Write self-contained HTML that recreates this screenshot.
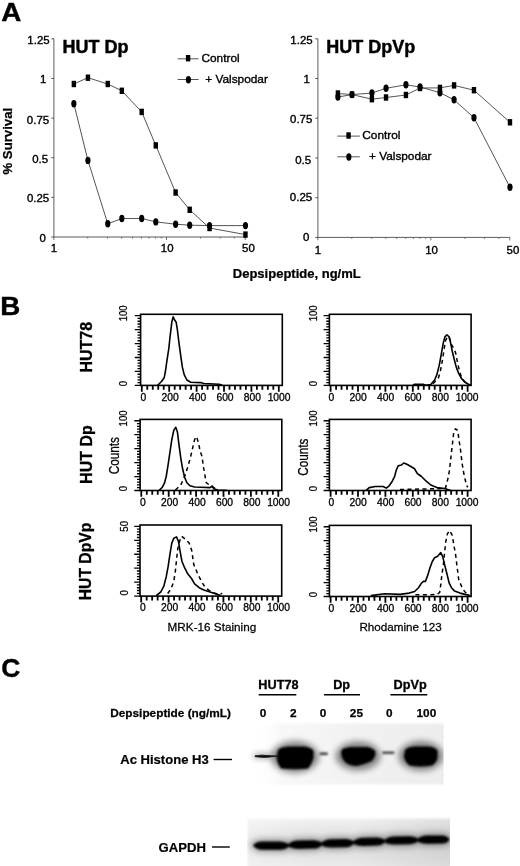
<!DOCTYPE html>
<html><head><meta charset="utf-8"><title>Figure</title>
<style>
html,body{margin:0;padding:0;background:#fff;overflow:hidden;}
svg{display:block;font-family:"Liberation Sans", Arial, Helvetica, sans-serif;}
text{fill:#000;}
</style></head>
<body>
<svg width="520" height="866" viewBox="0 0 520 866">
<rect width="520" height="866" fill="#fff"/>
<defs><filter id="soft" x="0" y="0" width="520" height="866" filterUnits="userSpaceOnUse"><feGaussianBlur stdDeviation="0.45"/></filter></defs>
<g filter="url(#soft)">
<path d="M53.9 38.8 V237 H245.47" fill="none" stroke="#333" stroke-width="0.8"/>
<path d="M51.4 237.00 H53.9" stroke="#4c4c4c" stroke-width="1"/>
<text font-size="10.4" text-anchor="end" transform="translate(45.9 242.2) scale(1.1 1.0)" stroke="#000" stroke-width="0.35">0</text>
<path d="M51.4 197.36 H53.9" stroke="#4c4c4c" stroke-width="1"/>
<text font-size="10.4" text-anchor="end" transform="translate(49.2 201.66) scale(1.1 1.0)" stroke="#000" stroke-width="0.35">0.25</text>
<path d="M51.4 157.72 H53.9" stroke="#4c4c4c" stroke-width="1"/>
<text font-size="10.4" text-anchor="end" transform="translate(48.1 163.42) scale(1.1 1.0)" stroke="#000" stroke-width="0.35">0.5</text>
<path d="M51.4 118.08 H53.9" stroke="#4c4c4c" stroke-width="1"/>
<text font-size="10.4" text-anchor="end" transform="translate(49.1 123.88) scale(1.1 1.0)" stroke="#000" stroke-width="0.35">0.75</text>
<path d="M51.4 78.44 H53.9" stroke="#4c4c4c" stroke-width="1"/>
<text font-size="10.4" text-anchor="end" transform="translate(46.4 83.34) scale(1.1 1.0)" stroke="#000" stroke-width="0.35">1</text>
<path d="M51.4 38.80 H53.9" stroke="#4c4c4c" stroke-width="1"/>
<text font-size="10.4" text-anchor="end" transform="translate(49.6 43.8) scale(1.1 1.0)" stroke="#000" stroke-width="0.35">1.25</text>
<path d="M53.80 237 v3" stroke="#4c4c4c" stroke-width="0.8"/>
<path d="M87.73 237 v1.5" stroke="#4c4c4c" stroke-width="0.8"/>
<path d="M107.57 237 v1.5" stroke="#4c4c4c" stroke-width="0.8"/>
<path d="M121.65 237 v1.5" stroke="#4c4c4c" stroke-width="0.8"/>
<path d="M132.57 237 v1.5" stroke="#4c4c4c" stroke-width="0.8"/>
<path d="M141.50 237 v1.5" stroke="#4c4c4c" stroke-width="0.8"/>
<path d="M149.04 237 v1.5" stroke="#4c4c4c" stroke-width="0.8"/>
<path d="M155.58 237 v1.5" stroke="#4c4c4c" stroke-width="0.8"/>
<path d="M161.34 237 v1.5" stroke="#4c4c4c" stroke-width="0.8"/>
<path d="M166.50 237 v3" stroke="#4c4c4c" stroke-width="0.8"/>
<path d="M200.43 237 v1.5" stroke="#4c4c4c" stroke-width="0.8"/>
<path d="M220.27 237 v1.5" stroke="#4c4c4c" stroke-width="0.8"/>
<path d="M234.35 237 v1.5" stroke="#4c4c4c" stroke-width="0.8"/>
<path d="M245.27 237 v3" stroke="#4c4c4c" stroke-width="0.8"/>
<text font-size="10.4" text-anchor="middle" transform="translate(54.0 252.1) scale(1.1 1.0)" stroke="#000" stroke-width="0.35">1</text>
<text font-size="10.4" text-anchor="middle" transform="translate(167.2 252.1) scale(1.1 1.0)" stroke="#000" stroke-width="0.35">10</text>
<text font-size="10.4" text-anchor="middle" transform="translate(248.47 252.1) scale(1.1 1.0)" stroke="#000" stroke-width="0.35">50</text>
<text font-size="18" font-weight="700" text-anchor="start" transform="translate(62.4 53.4)" stroke="#000" stroke-width="0.45">HUT Dp</text>
<polyline points="73.85,84.00 87.93,77.70 107.77,84.00 121.85,90.80 141.70,111.90 155.78,145.40 175.62,192.50 189.70,209.80 209.55,228.00 245.47,234.60" fill="none" stroke="#2a2a2a" stroke-width="0.8"/>
<polyline points="73.85,103.70 87.93,160.40 107.77,223.80 121.85,218.50 141.70,218.50 155.78,221.90 175.62,224.20 189.70,225.20 209.55,225.60 245.47,225.60" fill="none" stroke="#2a2a2a" stroke-width="0.8"/>
<rect x="71.65" y="80.80" width="4.4" height="6.4" fill="#000"/>
<rect x="85.73" y="74.50" width="4.4" height="6.4" fill="#000"/>
<rect x="105.57" y="80.80" width="4.4" height="6.4" fill="#000"/>
<rect x="119.65" y="87.60" width="4.4" height="6.4" fill="#000"/>
<rect x="139.50" y="108.70" width="4.4" height="6.4" fill="#000"/>
<rect x="153.58" y="142.20" width="4.4" height="6.4" fill="#000"/>
<rect x="173.42" y="189.30" width="4.4" height="6.4" fill="#000"/>
<rect x="187.50" y="206.60" width="4.4" height="6.4" fill="#000"/>
<rect x="207.35" y="224.80" width="4.4" height="6.4" fill="#000"/>
<rect x="243.27" y="231.40" width="4.4" height="6.4" fill="#000"/>
<ellipse cx="73.85" cy="103.70" rx="2.6" ry="3.7" fill="#000"/>
<ellipse cx="87.93" cy="160.40" rx="2.6" ry="3.7" fill="#000"/>
<ellipse cx="107.77" cy="223.80" rx="2.6" ry="3.7" fill="#000"/>
<ellipse cx="121.85" cy="218.50" rx="2.6" ry="3.7" fill="#000"/>
<ellipse cx="141.70" cy="218.50" rx="2.6" ry="3.7" fill="#000"/>
<ellipse cx="155.78" cy="221.90" rx="2.6" ry="3.7" fill="#000"/>
<ellipse cx="175.62" cy="224.20" rx="2.6" ry="3.7" fill="#000"/>
<ellipse cx="189.70" cy="225.20" rx="2.6" ry="3.7" fill="#000"/>
<ellipse cx="209.55" cy="225.60" rx="2.6" ry="3.7" fill="#000"/>
<ellipse cx="245.47" cy="225.60" rx="2.6" ry="3.7" fill="#000"/>
<path d="M177.6 58.800000000000004 h21 M177.6 79.5 h21" stroke="#555" stroke-width="1"/>
<rect x="185.9" y="55.0" width="4.4" height="6.4" fill="#000"/>
<ellipse cx="188.4" cy="79.7" rx="2.6" ry="3.7" fill="#000"/>
<text font-size="11.6" text-anchor="start" transform="translate(201.5 61.5) scale(1.02 1.0)" stroke="#000" stroke-width="0.35">Control</text>
<text font-size="11.6" text-anchor="start" transform="translate(205.3 82.5) scale(1.02 1.0)" stroke="#000" stroke-width="0.35">+ Valspodar</text>
<path d="M317.9 38.8 V237.4 H509.98" fill="none" stroke="#333" stroke-width="0.8"/>
<path d="M315.4 237.40 H317.9" stroke="#4c4c4c" stroke-width="1"/>
<text font-size="10.4" text-anchor="end" transform="translate(309.3 241.2) scale(1.1 1.0)" stroke="#000" stroke-width="0.35">0</text>
<path d="M315.4 197.68 H317.9" stroke="#4c4c4c" stroke-width="1"/>
<text font-size="10.4" text-anchor="end" transform="translate(312.1 200.98) scale(1.1 1.0)" stroke="#000" stroke-width="0.35">0.25</text>
<path d="M315.4 157.96 H317.9" stroke="#4c4c4c" stroke-width="1"/>
<text font-size="10.4" text-anchor="end" transform="translate(311.1 163.66) scale(1.1 1.0)" stroke="#000" stroke-width="0.35">0.5</text>
<path d="M315.4 118.24 H317.9" stroke="#4c4c4c" stroke-width="1"/>
<text font-size="10.4" text-anchor="end" transform="translate(312.3 122.74) scale(1.1 1.0)" stroke="#000" stroke-width="0.35">0.75</text>
<path d="M315.4 78.52 H317.9" stroke="#4c4c4c" stroke-width="1"/>
<text font-size="10.4" text-anchor="end" transform="translate(309.9 82.82) scale(1.1 1.0)" stroke="#000" stroke-width="0.35">1</text>
<path d="M315.4 38.80 H317.9" stroke="#4c4c4c" stroke-width="1"/>
<text font-size="10.4" text-anchor="end" transform="translate(312.6 43.5) scale(1.1 1.0)" stroke="#000" stroke-width="0.35">1.25</text>
<path d="M317.80 237.4 v3" stroke="#4c4c4c" stroke-width="0.8"/>
<path d="M351.82 237.4 v1.5" stroke="#4c4c4c" stroke-width="0.8"/>
<path d="M371.71 237.4 v1.5" stroke="#4c4c4c" stroke-width="0.8"/>
<path d="M385.83 237.4 v1.5" stroke="#4c4c4c" stroke-width="0.8"/>
<path d="M396.78 237.4 v1.5" stroke="#4c4c4c" stroke-width="0.8"/>
<path d="M405.73 237.4 v1.5" stroke="#4c4c4c" stroke-width="0.8"/>
<path d="M413.30 237.4 v1.5" stroke="#4c4c4c" stroke-width="0.8"/>
<path d="M419.85 237.4 v1.5" stroke="#4c4c4c" stroke-width="0.8"/>
<path d="M425.63 237.4 v1.5" stroke="#4c4c4c" stroke-width="0.8"/>
<path d="M430.80 237.4 v3" stroke="#4c4c4c" stroke-width="0.8"/>
<path d="M464.82 237.4 v1.5" stroke="#4c4c4c" stroke-width="0.8"/>
<path d="M484.71 237.4 v1.5" stroke="#4c4c4c" stroke-width="0.8"/>
<path d="M498.83 237.4 v1.5" stroke="#4c4c4c" stroke-width="0.8"/>
<path d="M509.78 237.4 v3" stroke="#4c4c4c" stroke-width="0.8"/>
<text font-size="10.4" text-anchor="middle" transform="translate(318.0 254) scale(1.1 1.0)" stroke="#000" stroke-width="0.35">1</text>
<text font-size="10.4" text-anchor="middle" transform="translate(431.5 254) scale(1.1 1.0)" stroke="#000" stroke-width="0.35">10</text>
<text font-size="10.4" text-anchor="middle" transform="translate(512.98 254) scale(1.1 1.0)" stroke="#000" stroke-width="0.35">50</text>
<text font-size="18" font-weight="700" text-anchor="start" transform="translate(326.2 53.4)" stroke="#000" stroke-width="0.45">HUT DpVp</text>
<polyline points="337.90,93.50 352.02,94.60 371.91,99.20 386.03,97.50 405.93,95.00 420.05,88.00 439.95,87.90 454.07,85.40 473.96,90.20 509.98,122.30" fill="none" stroke="#2a2a2a" stroke-width="0.8"/>
<polyline points="337.90,97.00 352.02,94.60 371.91,93.00 386.03,88.30 405.93,84.80 420.05,87.00 439.95,92.70 454.07,99.80 473.96,117.70 509.98,187.30" fill="none" stroke="#2a2a2a" stroke-width="0.8"/>
<rect x="335.70" y="90.30" width="4.4" height="6.4" fill="#000"/>
<rect x="349.82" y="91.40" width="4.4" height="6.4" fill="#000"/>
<rect x="369.71" y="96.00" width="4.4" height="6.4" fill="#000"/>
<rect x="383.83" y="94.30" width="4.4" height="6.4" fill="#000"/>
<rect x="403.73" y="91.80" width="4.4" height="6.4" fill="#000"/>
<rect x="417.85" y="84.80" width="4.4" height="6.4" fill="#000"/>
<rect x="437.75" y="84.70" width="4.4" height="6.4" fill="#000"/>
<rect x="451.87" y="82.20" width="4.4" height="6.4" fill="#000"/>
<rect x="471.76" y="87.00" width="4.4" height="6.4" fill="#000"/>
<rect x="507.78" y="119.10" width="4.4" height="6.4" fill="#000"/>
<ellipse cx="337.90" cy="97.00" rx="2.6" ry="3.7" fill="#000"/>
<ellipse cx="352.02" cy="94.60" rx="2.6" ry="3.7" fill="#000"/>
<ellipse cx="371.91" cy="93.00" rx="2.6" ry="3.7" fill="#000"/>
<ellipse cx="386.03" cy="88.30" rx="2.6" ry="3.7" fill="#000"/>
<ellipse cx="405.93" cy="84.80" rx="2.6" ry="3.7" fill="#000"/>
<ellipse cx="420.05" cy="87.00" rx="2.6" ry="3.7" fill="#000"/>
<ellipse cx="439.95" cy="92.70" rx="2.6" ry="3.7" fill="#000"/>
<ellipse cx="454.07" cy="99.80" rx="2.6" ry="3.7" fill="#000"/>
<ellipse cx="473.96" cy="117.70" rx="2.6" ry="3.7" fill="#000"/>
<ellipse cx="509.98" cy="187.30" rx="2.6" ry="3.7" fill="#000"/>
<path d="M337.3 136.1 h22.5 M337.3 156.8 h22.5" stroke="#555" stroke-width="1"/>
<rect x="346.35" y="132.3" width="4.4" height="6.4" fill="#000"/>
<ellipse cx="348.85" cy="157" rx="2.6" ry="3.7" fill="#000"/>
<text font-size="11.6" text-anchor="start" transform="translate(362.3 138.8) scale(1.02 1.0)" stroke="#000" stroke-width="0.35">Control</text>
<text font-size="11.6" text-anchor="start" transform="translate(369 159.8) scale(1.02 1.0)" stroke="#000" stroke-width="0.35">+ Valspodar</text>
<text font-size="26.3" font-weight="700" text-anchor="start" transform="translate(1.2 21.2) scale(1.06 1.0)" stroke="#000" stroke-width="0.4">A</text>
<text font-size="13.2" font-weight="700" text-anchor="middle" transform="translate(12.4 141.2) rotate(-90)" stroke="#000" stroke-width="0.25">% Survival</text>
<text font-size="12" font-weight="700" text-anchor="middle" transform="translate(296.75 278.2) scale(1.085 1.0)" stroke="#000" stroke-width="0.25">Depsipeptide, ng/mL</text>
<text font-size="26.2" font-weight="700" text-anchor="start" transform="translate(0.2 314.9) scale(1.06 1.0)" stroke="#000" stroke-width="0.4">B</text>
<rect x="140.6" y="314.3" width="141.7" height="71.1" fill="none" stroke="#000" stroke-width="1.6"/>
<path d="M134.80 385.40H140.6 M137.50 382.61H140.6 M137.50 379.82H140.6 M137.50 377.03H140.6 M137.50 374.24H140.6 M134.80 371.45H140.6 M137.50 368.66H140.6 M137.50 365.87H140.6 M137.50 363.08H140.6 M137.50 360.29H140.6 M134.80 357.50H140.6 M137.50 354.71H140.6 M137.50 351.92H140.6 M137.50 349.13H140.6 M137.50 346.34H140.6 M134.80 343.55H140.6 M137.50 340.76H140.6 M137.50 337.97H140.6 M137.50 335.18H140.6 M137.50 332.39H140.6 M134.80 329.60H140.6 M137.50 326.81H140.6 M137.50 324.02H140.6 M137.50 321.23H140.6 M137.50 318.44H140.6 M134.80 315.65H140.6 " stroke="#000" stroke-width="1.3"/>
<path d="M141.80 385.4v6.3 M147.28 385.4v4.3 M152.76 385.4v4.3 M158.24 385.4v4.3 M163.72 385.4v4.3 M169.20 385.4v6.3 M174.68 385.4v4.3 M180.16 385.4v4.3 M185.64 385.4v4.3 M191.12 385.4v4.3 M196.60 385.4v6.3 M202.08 385.4v4.3 M207.56 385.4v4.3 M213.04 385.4v4.3 M218.52 385.4v4.3 M224.00 385.4v6.3 M229.48 385.4v4.3 M234.96 385.4v4.3 M240.44 385.4v4.3 M245.92 385.4v4.3 M251.40 385.4v6.3 M256.88 385.4v4.3 M262.36 385.4v4.3 M267.84 385.4v4.3 M273.32 385.4v4.3 M278.80 385.4v6.3 " stroke="#000" stroke-width="1.8"/>
<text font-size="10.3" text-anchor="middle" transform="translate(143.4 401.3)" stroke="#000" stroke-width="0.3">0</text>
<text font-size="10.3" text-anchor="middle" transform="translate(170.2 401.3)" stroke="#000" stroke-width="0.3">200</text>
<text font-size="10.3" text-anchor="middle" transform="translate(197.6 401.3)" stroke="#000" stroke-width="0.3">400</text>
<text font-size="10.3" text-anchor="middle" transform="translate(225.0 401.3)" stroke="#000" stroke-width="0.3">600</text>
<text font-size="10.3" text-anchor="middle" transform="translate(252.4 401.3)" stroke="#000" stroke-width="0.3">800</text>
<text font-size="10.3" text-anchor="middle" transform="translate(279.1 401.3)" stroke="#000" stroke-width="0.3">1000</text>
<text font-size="9.6" text-anchor="middle" transform="translate(127.1 383.6) rotate(-90) scale(1.0 1.08)" stroke="#000" stroke-width="0.25">0</text>
<text font-size="9.6" text-anchor="middle" transform="translate(127.1 313.3) rotate(-90) scale(1.0 1.08)" stroke="#000" stroke-width="0.25">100</text>
<polyline points="157.7,385.2 161.5,381.5 164.2,377.7 165.4,371.5 166.9,360.8 168.8,348.5 170.3,334.6 171.8,322.3 173.1,316.9 174.6,320.0 176.2,322.3 177.4,330.0 178.9,342.3 180.8,356.2 182.3,366.9 184.2,374.6 186.9,380.0 190.8,382.3 200.8,382.6 203.8,383.5 219.2,384.2 222.3,385.2" fill="none" stroke="#000" stroke-width="1.6" stroke-linejoin="round"/>
<rect x="329.4" y="314.3" width="141.7" height="71.1" fill="none" stroke="#000" stroke-width="1.6"/>
<path d="M323.60 385.40H329.4 M326.30 382.61H329.4 M326.30 379.82H329.4 M326.30 377.03H329.4 M326.30 374.24H329.4 M323.60 371.45H329.4 M326.30 368.66H329.4 M326.30 365.87H329.4 M326.30 363.08H329.4 M326.30 360.29H329.4 M323.60 357.50H329.4 M326.30 354.71H329.4 M326.30 351.92H329.4 M326.30 349.13H329.4 M326.30 346.34H329.4 M323.60 343.55H329.4 M326.30 340.76H329.4 M326.30 337.97H329.4 M326.30 335.18H329.4 M326.30 332.39H329.4 M323.60 329.60H329.4 M326.30 326.81H329.4 M326.30 324.02H329.4 M326.30 321.23H329.4 M326.30 318.44H329.4 M323.60 315.65H329.4 " stroke="#000" stroke-width="1.3"/>
<path d="M330.60 385.4v6.3 M336.08 385.4v4.3 M341.56 385.4v4.3 M347.04 385.4v4.3 M352.52 385.4v4.3 M358.00 385.4v6.3 M363.48 385.4v4.3 M368.96 385.4v4.3 M374.44 385.4v4.3 M379.92 385.4v4.3 M385.40 385.4v6.3 M390.88 385.4v4.3 M396.36 385.4v4.3 M401.84 385.4v4.3 M407.32 385.4v4.3 M412.80 385.4v6.3 M418.28 385.4v4.3 M423.76 385.4v4.3 M429.24 385.4v4.3 M434.72 385.4v4.3 M440.20 385.4v6.3 M445.68 385.4v4.3 M451.16 385.4v4.3 M456.64 385.4v4.3 M462.12 385.4v4.3 M467.60 385.4v6.3 " stroke="#000" stroke-width="1.8"/>
<text font-size="10.3" text-anchor="middle" transform="translate(331.4 401.3)" stroke="#000" stroke-width="0.3">0</text>
<text font-size="10.3" text-anchor="middle" transform="translate(358.2 401.3)" stroke="#000" stroke-width="0.3">200</text>
<text font-size="10.3" text-anchor="middle" transform="translate(385.6 401.3)" stroke="#000" stroke-width="0.3">400</text>
<text font-size="10.3" text-anchor="middle" transform="translate(413.0 401.3)" stroke="#000" stroke-width="0.3">600</text>
<text font-size="10.3" text-anchor="middle" transform="translate(440.4 401.3)" stroke="#000" stroke-width="0.3">800</text>
<text font-size="10.3" text-anchor="middle" transform="translate(467.1 401.3)" stroke="#000" stroke-width="0.3">1000</text>
<text font-size="9.6" text-anchor="middle" transform="translate(316.9 383.6) rotate(-90) scale(1.0 1.08)" stroke="#000" stroke-width="0.25">0</text>
<text font-size="9.6" text-anchor="middle" transform="translate(316.9 313.3) rotate(-90) scale(1.0 1.08)" stroke="#000" stroke-width="0.25">100</text>
<polyline points="413.1,385.1 414.6,384.2 423.1,384.2 425.4,385.2 430.8,384.6 434.6,380.0 436.9,374.6 439.2,365.4 441.2,354.6 443.1,343.8 444.9,336.9 446.9,334.9 448.9,336.5 450.5,342.3 452.3,351.5 454.2,359.2 456.2,366.9 458.5,373.1 461.5,378.5 464.6,382.0 468.5,384.2 471.1,385.2" fill="none" stroke="#000" stroke-width="1.6" stroke-linejoin="round"/>
<polyline points="433.1,383.8 438.5,377.7 440.3,371.5 442.3,360.8 443.8,351.5 445.4,340.8 447.7,336.2 449.5,337.7 451.5,344.6 453.8,348.5 455.7,353.1 457.2,360.8 459.2,370.0 461.5,377.7 464.6,381.5 468.0,384.0" fill="none" stroke="#000" stroke-width="1.5" stroke-linejoin="round" stroke-dasharray="4 3.5"/>
<rect x="140.1" y="419.4" width="141.7" height="71.1" fill="none" stroke="#000" stroke-width="1.6"/>
<path d="M134.30 490.50H140.1 M137.00 487.71H140.1 M137.00 484.92H140.1 M137.00 482.13H140.1 M137.00 479.34H140.1 M134.30 476.55H140.1 M137.00 473.76H140.1 M137.00 470.97H140.1 M137.00 468.18H140.1 M137.00 465.39H140.1 M134.30 462.60H140.1 M137.00 459.81H140.1 M137.00 457.02H140.1 M137.00 454.23H140.1 M137.00 451.44H140.1 M134.30 448.65H140.1 M137.00 445.86H140.1 M137.00 443.07H140.1 M137.00 440.28H140.1 M137.00 437.49H140.1 M134.30 434.70H140.1 M137.00 431.91H140.1 M137.00 429.12H140.1 M137.00 426.33H140.1 M137.00 423.54H140.1 M134.30 420.75H140.1 " stroke="#000" stroke-width="1.3"/>
<path d="M141.30 490.5v6.3 M146.78 490.5v4.3 M152.26 490.5v4.3 M157.74 490.5v4.3 M163.22 490.5v4.3 M168.70 490.5v6.3 M174.18 490.5v4.3 M179.66 490.5v4.3 M185.14 490.5v4.3 M190.62 490.5v4.3 M196.10 490.5v6.3 M201.58 490.5v4.3 M207.06 490.5v4.3 M212.54 490.5v4.3 M218.02 490.5v4.3 M223.50 490.5v6.3 M228.98 490.5v4.3 M234.46 490.5v4.3 M239.94 490.5v4.3 M245.42 490.5v4.3 M250.90 490.5v6.3 M256.38 490.5v4.3 M261.86 490.5v4.3 M267.34 490.5v4.3 M272.82 490.5v4.3 M278.30 490.5v6.3 " stroke="#000" stroke-width="1.8"/>
<text font-size="10.3" text-anchor="middle" transform="translate(142.9 506.2)" stroke="#000" stroke-width="0.3">0</text>
<text font-size="10.3" text-anchor="middle" transform="translate(169.7 506.2)" stroke="#000" stroke-width="0.3">200</text>
<text font-size="10.3" text-anchor="middle" transform="translate(197.1 506.2)" stroke="#000" stroke-width="0.3">400</text>
<text font-size="10.3" text-anchor="middle" transform="translate(224.5 506.2)" stroke="#000" stroke-width="0.3">600</text>
<text font-size="10.3" text-anchor="middle" transform="translate(251.9 506.2)" stroke="#000" stroke-width="0.3">800</text>
<text font-size="10.3" text-anchor="middle" transform="translate(278.6 506.2)" stroke="#000" stroke-width="0.3">1000</text>
<text font-size="9.6" text-anchor="middle" transform="translate(126.6 488.7) rotate(-90) scale(1.0 1.08)" stroke="#000" stroke-width="0.25">0</text>
<text font-size="9.6" text-anchor="middle" transform="translate(126.6 418.4) rotate(-90) scale(1.0 1.08)" stroke="#000" stroke-width="0.25">100</text>
<polyline points="159.2,490.4 162.3,487.3 164.6,482.7 166.2,476.5 168.2,464.2 170.0,451.9 171.8,439.6 173.8,430.4 175.8,427.3 177.4,431.9 178.9,444.2 180.8,458.1 182.6,468.8 184.6,477.3 186.9,482.7 190.0,485.8 194.6,487.0 200.8,487.3 210.0,487.6 212.3,486.0 213.8,488.8 217.7,490.0 226.9,490.4" fill="none" stroke="#000" stroke-width="1.6" stroke-linejoin="round"/>
<polyline points="175.4,490.0 180.8,485.0 184.6,476.5 187.7,467.3 190.3,458.1 192.8,447.3 194.6,439.6 196.5,436.5 198.5,442.7 200.0,450.4 202.0,456.5 203.5,467.3 205.4,478.1 206.2,482.7 211.5,486.5 217.7,489.6" fill="none" stroke="#000" stroke-width="1.5" stroke-linejoin="round" stroke-dasharray="4 3.5"/>
<rect x="329.4" y="419.4" width="141.7" height="71.1" fill="none" stroke="#000" stroke-width="1.6"/>
<path d="M323.60 490.50H329.4 M326.30 487.71H329.4 M326.30 484.92H329.4 M326.30 482.13H329.4 M326.30 479.34H329.4 M323.60 476.55H329.4 M326.30 473.76H329.4 M326.30 470.97H329.4 M326.30 468.18H329.4 M326.30 465.39H329.4 M323.60 462.60H329.4 M326.30 459.81H329.4 M326.30 457.02H329.4 M326.30 454.23H329.4 M326.30 451.44H329.4 M323.60 448.65H329.4 M326.30 445.86H329.4 M326.30 443.07H329.4 M326.30 440.28H329.4 M326.30 437.49H329.4 M323.60 434.70H329.4 M326.30 431.91H329.4 M326.30 429.12H329.4 M326.30 426.33H329.4 M326.30 423.54H329.4 M323.60 420.75H329.4 " stroke="#000" stroke-width="1.3"/>
<path d="M330.60 490.5v6.3 M336.08 490.5v4.3 M341.56 490.5v4.3 M347.04 490.5v4.3 M352.52 490.5v4.3 M358.00 490.5v6.3 M363.48 490.5v4.3 M368.96 490.5v4.3 M374.44 490.5v4.3 M379.92 490.5v4.3 M385.40 490.5v6.3 M390.88 490.5v4.3 M396.36 490.5v4.3 M401.84 490.5v4.3 M407.32 490.5v4.3 M412.80 490.5v6.3 M418.28 490.5v4.3 M423.76 490.5v4.3 M429.24 490.5v4.3 M434.72 490.5v4.3 M440.20 490.5v6.3 M445.68 490.5v4.3 M451.16 490.5v4.3 M456.64 490.5v4.3 M462.12 490.5v4.3 M467.60 490.5v6.3 " stroke="#000" stroke-width="1.8"/>
<text font-size="10.3" text-anchor="middle" transform="translate(331.4 506.2)" stroke="#000" stroke-width="0.3">0</text>
<text font-size="10.3" text-anchor="middle" transform="translate(358.2 506.2)" stroke="#000" stroke-width="0.3">200</text>
<text font-size="10.3" text-anchor="middle" transform="translate(385.6 506.2)" stroke="#000" stroke-width="0.3">400</text>
<text font-size="10.3" text-anchor="middle" transform="translate(413.0 506.2)" stroke="#000" stroke-width="0.3">600</text>
<text font-size="10.3" text-anchor="middle" transform="translate(440.4 506.2)" stroke="#000" stroke-width="0.3">800</text>
<text font-size="10.3" text-anchor="middle" transform="translate(467.1 506.2)" stroke="#000" stroke-width="0.3">1000</text>
<text font-size="9.6" text-anchor="middle" transform="translate(316.9 488.7) rotate(-90) scale(1.0 1.08)" stroke="#000" stroke-width="0.25">0</text>
<text font-size="9.6" text-anchor="middle" transform="translate(316.9 418.4) rotate(-90) scale(1.0 1.08)" stroke="#000" stroke-width="0.25">100</text>
<polyline points="366.2,490.4 369.2,487.6 375.4,486.5 383.1,486.5 386.2,488.1 389.2,485.8 392.3,481.2 394.6,476.5 396.2,470.4 398.2,465.8 401.5,465.0 403.8,463.0 406.9,464.2 410.8,466.5 414.6,468.8 417.3,473.5 421.5,476.5 426.2,481.2 430.8,485.0 436.9,487.6 444.6,488.5 450.8,490.4" fill="none" stroke="#000" stroke-width="1.6" stroke-linejoin="round"/>
<polyline points="400.0,489.5 445.4,488.5 447.7,479.6 449.2,471.9 450.5,461.2 451.5,451.9 452.6,442.7 453.8,431.9 455.4,428.8 457.7,430.4 459.2,441.2 460.8,451.9 462.0,462.7 463.8,473.5 466.2,484.2 467.7,487.3" fill="none" stroke="#000" stroke-width="1.5" stroke-linejoin="round" stroke-dasharray="4 3.5"/>
<rect x="140.0" y="525.0" width="141.7" height="71.1" fill="none" stroke="#000" stroke-width="1.6"/>
<path d="M134.20 596.10H140.0 M136.90 593.31H140.0 M136.90 590.52H140.0 M136.90 587.73H140.0 M136.90 584.94H140.0 M134.20 582.15H140.0 M136.90 579.36H140.0 M136.90 576.57H140.0 M136.90 573.78H140.0 M136.90 570.99H140.0 M134.20 568.20H140.0 M136.90 565.41H140.0 M136.90 562.62H140.0 M136.90 559.83H140.0 M136.90 557.04H140.0 M134.20 554.25H140.0 M136.90 551.46H140.0 M136.90 548.67H140.0 M136.90 545.88H140.0 M136.90 543.09H140.0 M134.20 540.30H140.0 M136.90 537.51H140.0 M136.90 534.72H140.0 M136.90 531.93H140.0 M136.90 529.14H140.0 M134.20 526.35H140.0 " stroke="#000" stroke-width="1.3"/>
<path d="M141.20 596.1v6.3 M146.68 596.1v4.3 M152.16 596.1v4.3 M157.64 596.1v4.3 M163.12 596.1v4.3 M168.60 596.1v6.3 M174.08 596.1v4.3 M179.56 596.1v4.3 M185.04 596.1v4.3 M190.52 596.1v4.3 M196.00 596.1v6.3 M201.48 596.1v4.3 M206.96 596.1v4.3 M212.44 596.1v4.3 M217.92 596.1v4.3 M223.40 596.1v6.3 M228.88 596.1v4.3 M234.36 596.1v4.3 M239.84 596.1v4.3 M245.32 596.1v4.3 M250.80 596.1v6.3 M256.28 596.1v4.3 M261.76 596.1v4.3 M267.24 596.1v4.3 M272.72 596.1v4.3 M278.20 596.1v6.3 " stroke="#000" stroke-width="1.8"/>
<text font-size="10.3" text-anchor="middle" transform="translate(142.8 611.4)" stroke="#000" stroke-width="0.3">0</text>
<text font-size="10.3" text-anchor="middle" transform="translate(169.6 611.4)" stroke="#000" stroke-width="0.3">200</text>
<text font-size="10.3" text-anchor="middle" transform="translate(197.0 611.4)" stroke="#000" stroke-width="0.3">400</text>
<text font-size="10.3" text-anchor="middle" transform="translate(224.4 611.4)" stroke="#000" stroke-width="0.3">600</text>
<text font-size="10.3" text-anchor="middle" transform="translate(251.8 611.4)" stroke="#000" stroke-width="0.3">800</text>
<text font-size="10.3" text-anchor="middle" transform="translate(278.5 611.4)" stroke="#000" stroke-width="0.3">1000</text>
<text font-size="9.6" text-anchor="middle" transform="translate(128.2 592.8) rotate(-90) scale(1.0 1.08)" stroke="#000" stroke-width="0.25">0</text>
<text font-size="9.6" text-anchor="middle" transform="translate(128.2 526.3) rotate(-90) scale(1.0 1.08)" stroke="#000" stroke-width="0.25">50</text>
<polyline points="156.2,595.6 160.8,592.0 163.8,586.2 166.2,576.9 168.2,566.2 170.0,553.8 171.8,543.1 173.8,538.2 176.5,536.9 178.5,541.5 180.0,550.8 182.0,561.5 184.6,567.7 187.7,573.8 191.5,578.5 194.6,583.8 199.2,587.7 203.8,590.0 208.5,591.5 214.6,593.5 220.8,595.6" fill="none" stroke="#000" stroke-width="1.6" stroke-linejoin="round"/>
<polyline points="167.7,593.5 170.8,589.2 173.8,581.5 175.4,570.8 176.5,560.0 177.7,549.2 179.5,541.5 181.5,536.2 185.4,539.2 189.2,543.1 191.8,550.8 193.8,564.6 197.7,573.8 201.5,581.5 205.4,587.7 211.5,592.0 217.7,594.2 222.3,593.5" fill="none" stroke="#000" stroke-width="1.5" stroke-linejoin="round" stroke-dasharray="4 3.5"/>
<rect x="329.4" y="525.4" width="141.7" height="71.1" fill="none" stroke="#000" stroke-width="1.6"/>
<path d="M323.60 596.50H329.4 M326.30 593.71H329.4 M326.30 590.92H329.4 M326.30 588.13H329.4 M326.30 585.34H329.4 M323.60 582.55H329.4 M326.30 579.76H329.4 M326.30 576.97H329.4 M326.30 574.18H329.4 M326.30 571.39H329.4 M323.60 568.60H329.4 M326.30 565.81H329.4 M326.30 563.02H329.4 M326.30 560.23H329.4 M326.30 557.44H329.4 M323.60 554.65H329.4 M326.30 551.86H329.4 M326.30 549.07H329.4 M326.30 546.28H329.4 M326.30 543.49H329.4 M323.60 540.70H329.4 M326.30 537.91H329.4 M326.30 535.12H329.4 M326.30 532.33H329.4 M326.30 529.54H329.4 M323.60 526.75H329.4 " stroke="#000" stroke-width="1.3"/>
<path d="M330.60 596.5v6.3 M336.08 596.5v4.3 M341.56 596.5v4.3 M347.04 596.5v4.3 M352.52 596.5v4.3 M358.00 596.5v6.3 M363.48 596.5v4.3 M368.96 596.5v4.3 M374.44 596.5v4.3 M379.92 596.5v4.3 M385.40 596.5v6.3 M390.88 596.5v4.3 M396.36 596.5v4.3 M401.84 596.5v4.3 M407.32 596.5v4.3 M412.80 596.5v6.3 M418.28 596.5v4.3 M423.76 596.5v4.3 M429.24 596.5v4.3 M434.72 596.5v4.3 M440.20 596.5v6.3 M445.68 596.5v4.3 M451.16 596.5v4.3 M456.64 596.5v4.3 M462.12 596.5v4.3 M467.60 596.5v6.3 " stroke="#000" stroke-width="1.8"/>
<text font-size="10.3" text-anchor="middle" transform="translate(331.4 611.5)" stroke="#000" stroke-width="0.3">0</text>
<text font-size="10.3" text-anchor="middle" transform="translate(358.2 611.5)" stroke="#000" stroke-width="0.3">200</text>
<text font-size="10.3" text-anchor="middle" transform="translate(385.6 611.5)" stroke="#000" stroke-width="0.3">400</text>
<text font-size="10.3" text-anchor="middle" transform="translate(413.0 611.5)" stroke="#000" stroke-width="0.3">600</text>
<text font-size="10.3" text-anchor="middle" transform="translate(440.4 611.5)" stroke="#000" stroke-width="0.3">800</text>
<text font-size="10.3" text-anchor="middle" transform="translate(467.1 611.5)" stroke="#000" stroke-width="0.3">1000</text>
<text font-size="9.6" text-anchor="middle" transform="translate(316.9 594.7) rotate(-90) scale(1.0 1.08)" stroke="#000" stroke-width="0.25">0</text>
<text font-size="9.6" text-anchor="middle" transform="translate(316.9 524.4) rotate(-90) scale(1.0 1.08)" stroke="#000" stroke-width="0.25">100</text>
<polyline points="370.8,595.6 384.6,593.8 400.0,594.4 409.2,593.1 414.6,591.5 418.5,587.7 421.5,583.1 423.8,581.2 425.4,581.5 427.7,575.4 430.0,567.7 432.3,561.5 434.6,557.7 437.7,556.2 440.8,552.6 442.8,556.9 444.6,564.6 446.9,573.8 449.2,583.1 451.5,587.7 454.6,591.1 460.0,593.1 466.2,594.6 470.0,595.6" fill="none" stroke="#000" stroke-width="1.6" stroke-linejoin="round"/>
<polyline points="415.4,594.8 436.9,594.6 439.7,592.3 440.8,584.6 441.8,575.4 443.4,564.6 444.6,552.3 445.8,541.5 447.4,533.8 449.5,530.5 452.3,535.4 453.8,544.6 455.7,555.4 457.2,567.7 458.8,580.0 461.5,586.2 464.6,591.5 468.5,595.1" fill="none" stroke="#000" stroke-width="1.5" stroke-linejoin="round" stroke-dasharray="4 3.5"/>
<text font-size="16" font-weight="700" text-anchor="middle" transform="translate(92 347.3) rotate(-90) scale(1.0 1.06)" stroke="#000" stroke-width="0.3">HUT78</text>
<text font-size="16" font-weight="700" text-anchor="middle" transform="translate(91.6 454.6) rotate(-90) scale(1.0 1.06)" stroke="#000" stroke-width="0.3">HUT Dp</text>
<text font-size="15.7" font-weight="700" text-anchor="middle" transform="translate(91.3 561.5) rotate(-90) scale(1.0 1.08)" stroke="#000" stroke-width="0.3">HUT DpVp</text>
<text font-size="11.8" text-anchor="middle" transform="translate(119.0 455.7) rotate(-90) scale(1.0 1.2)" stroke="#000" stroke-width="0.25">Counts</text>
<text font-size="11.8" text-anchor="middle" transform="translate(307.6 457.2) rotate(-90) scale(1.0 1.2)" stroke="#000" stroke-width="0.25">Counts</text>
<text font-size="11.5" text-anchor="middle" transform="translate(211.9 631.0) scale(1.02 1.0)" stroke="#000" stroke-width="0.25">MRK-16 Staining</text>
<text font-size="11.5" text-anchor="middle" transform="translate(400.6 631.0) scale(1.016 1.0)" stroke="#000" stroke-width="0.25">Rhodamine 123</text>
<text font-size="25.6" font-weight="700" text-anchor="start" transform="translate(1.2 677.3) scale(1.03 1.0)" stroke="#000" stroke-width="0.4">C</text>
<text font-size="12" font-weight="700" text-anchor="middle" transform="translate(278.5 688.8) scale(1.06 1.0)" stroke="#000" stroke-width="0.3">HUT78</text>
<text font-size="12" font-weight="700" text-anchor="middle" transform="translate(341.6 688.8) scale(1.06 1.0)" stroke="#000" stroke-width="0.3">Dp</text>
<text font-size="12" font-weight="700" text-anchor="middle" transform="translate(410.1 688.8) scale(1.06 1.0)" stroke="#000" stroke-width="0.3">DpVp</text>
<path d="M258.7 694.7 H296.3 M324 694.7 H360 M390.4 694.7 H427.3" stroke="#000" stroke-width="1.4"/>
<text font-size="11.6" font-weight="700" text-anchor="start" transform="translate(110.2 716.9) scale(1.02 1.0)" stroke="#000" stroke-width="0.25">Depsipeptide (ng/mL)</text>
<text font-size="11.8" font-weight="700" text-anchor="middle" transform="translate(263.1 716.9)" stroke="#000" stroke-width="0.25">0</text>
<text font-size="11.8" font-weight="700" text-anchor="middle" transform="translate(293.3 716.9)" stroke="#000" stroke-width="0.25">2</text>
<text font-size="11.8" font-weight="700" text-anchor="middle" transform="translate(323.1 716.9)" stroke="#000" stroke-width="0.25">0</text>
<text font-size="11.8" font-weight="700" text-anchor="middle" transform="translate(356.4 716.9)" stroke="#000" stroke-width="0.25">25</text>
<text font-size="11.8" font-weight="700" text-anchor="middle" transform="translate(389.4 716.9)" stroke="#000" stroke-width="0.25">0</text>
<text font-size="11.8" font-weight="700" text-anchor="middle" transform="translate(426.4 716.9)" stroke="#000" stroke-width="0.25">100</text>
<text font-size="13.2" font-weight="700" text-anchor="start" transform="translate(120.2 764.4) scale(0.99 1.0)" stroke="#000" stroke-width="0.2">Ac Histone H3</text>
<path d="M213.6 759.5 H232" stroke="#000" stroke-width="1.4"/>
<text font-size="13.2" font-weight="700" text-anchor="start" transform="translate(158.6 851.8) scale(0.995 1.0)" stroke="#000" stroke-width="0.2">GAPDH</text>
<path d="M212 847 H229.8" stroke="#000" stroke-width="1.4"/>
<defs>
<filter id="bl06" x="-30%" y="-30%" width="160%" height="160%"><feGaussianBlur stdDeviation="0.7"/></filter>
<filter id="bl1" x="0" y="700" width="520" height="166" filterUnits="userSpaceOnUse"><feGaussianBlur stdDeviation="1.3"/></filter>
<filter id="bl3" x="0" y="700" width="520" height="166" filterUnits="userSpaceOnUse"><feGaussianBlur stdDeviation="3.2"/></filter>
<filter id="bl2" x="-30%" y="-30%" width="160%" height="160%"><feGaussianBlur stdDeviation="2"/></filter>
<linearGradient id="g1" x1="0" x2="1" y1="0" y2="0">
<stop offset="0" stop-color="#fff" stop-opacity="0"/><stop offset="0.15" stop-color="#f8f8f8"/><stop offset="0.5" stop-color="#f2f2f2"/><stop offset="1" stop-color="#ececec"/>
</linearGradient>
<linearGradient id="g3" x1="0" x2="1" y1="0" y2="0"><stop offset="0" stop-color="#fff" stop-opacity="0.35"/><stop offset="0.3" stop-color="#fff" stop-opacity="0"/><stop offset="0.5" stop-color="#000" stop-opacity="0"/><stop offset="1" stop-color="#000" stop-opacity="0.07"/></linearGradient>
<linearGradient id="g2" x1="0" x2="0" y1="0" y2="1">
<stop offset="0" stop-color="#f3f3f3"/><stop offset="0.12" stop-color="#ebebeb"/><stop offset="0.42" stop-color="#dcdcdc"/><stop offset="0.62" stop-color="#e2e2e2"/><stop offset="1" stop-color="#f0f0f0"/>
</linearGradient>
<clipPath id="cp1"><rect x="240" y="715" width="203.6" height="70"/></clipPath>
<clipPath id="cp2"><rect x="247" y="810" width="202.6" height="56"/></clipPath>
</defs>
<g clip-path="url(#cp1)">
<g filter="url(#bl1)"><rect x="251" y="723.5" width="196" height="61" fill="url(#g1)"/></g>
<g filter="url(#bl3)" fill="#000" opacity="0.46"><ellipse cx="295" cy="757" rx="24" ry="16"/><ellipse cx="358" cy="756" rx="22.5" ry="14.5"/><ellipse cx="421" cy="756" rx="22.5" ry="15"/><rect x="254" y="754" width="24" height="4"/></g>
<g filter="url(#bl1)" fill="#000"><path d="M278 750 Q280 747 288 746.5 L304 746.5 Q311 747 313.5 751 L313.5 758 Q312 764 308 768.5 Q296 770 281 768.5 Q277 763 276.5 757 Z"/><path d="M341.5 750 Q344 747.5 351 747 L367 747 Q373.5 748 375.5 752 Q375.5 758 371 761.5 Q364 764.5 357 766 Q350 766 345.5 762.5 Q340 757 341.5 750 Z"/><path d="M405 750 Q407 747 414 746.5 L429 746.5 Q435.5 747 437.5 751 L437.5 758 Q436.5 763 432 765.5 Q420 767.5 409.5 765.5 Q404 761 404 756 Z"/></g>
<g filter="url(#bl06)"><path d="M255 755.8 Q262 754.6 268 755.6 L277 756 L268 757.2 Q262 757.8 255 756.6 Z" fill="#111" stroke="#111" stroke-width="0.8"/></g><g filter="url(#bl1)"><rect x="319.5" y="752.4" width="8.5" height="2.6" rx="1.3" fill="#333"/><rect x="382" y="751.4" width="12.5" height="2.6" rx="1.3" fill="#444"/></g>
</g>
<g clip-path="url(#cp2)">
<g filter="url(#bl1)"><rect x="247.6" y="818.5" width="204" height="56" fill="url(#g2)"/><rect x="247.6" y="818.5" width="204" height="56" fill="url(#g3)"/></g>
<g filter="url(#bl3)" opacity="0.32"><path d="M253 845.4 Q256 841.6 262 841.4 L280 841.4 Q286 842 288.5 844 Q292 840.6 298 840.4 L314 840.2 Q319 840.6 321.5 842.6 Q325 839.4 331 839.2 L346 839 Q351 839.6 353.5 841.2 Q357 838 363 837.8 L377 837.6 Q382 838 384.5 839.8 Q388 836.6 394 836.4 L410 836.2 Q415 836.6 418 838.6 Q421 835.6 427 835.4 L443 835.4 Q448 836.4 449.4 839.3 Q448 843 443 843.4 L427 843.8 Q421 843.6 418 841.6 Q415 844 410 844.2 L394 844.6 Q388 844.4 384.5 842.6 Q382 845.4 377 845.6 L363 846 Q357 845.8 353.5 844 Q351 847 346 847.2 L331 847.6 Q325 847.4 321.5 845.4 Q319 848.4 314 848.6 L298 849 Q292 848.8 288.5 846.8 Q286 849.6 280 849.8 L262 849.8 Q256 849.4 253 845.4 Z" fill="#000" stroke="#000" stroke-width="5"/></g>
<g filter="url(#bl1)"><path d="M253 845.4 Q256 841.6 262 841.4 L280 841.4 Q286 842 288.5 844 Q292 840.6 298 840.4 L314 840.2 Q319 840.6 321.5 842.6 Q325 839.4 331 839.2 L346 839 Q351 839.6 353.5 841.2 Q357 838 363 837.8 L377 837.6 Q382 838 384.5 839.8 Q388 836.6 394 836.4 L410 836.2 Q415 836.6 418 838.6 Q421 835.6 427 835.4 L443 835.4 Q448 836.4 449.4 839.3 Q448 843 443 843.4 L427 843.8 Q421 843.6 418 841.6 Q415 844 410 844.2 L394 844.6 Q388 844.4 384.5 842.6 Q382 845.4 377 845.6 L363 846 Q357 845.8 353.5 844 Q351 847 346 847.2 L331 847.6 Q325 847.4 321.5 845.4 Q319 848.4 314 848.6 L298 849 Q292 848.8 288.5 846.8 Q286 849.6 280 849.8 L262 849.8 Q256 849.4 253 845.4 Z" fill="#000"/></g>
</g>
</g>
</svg>
</body></html>
